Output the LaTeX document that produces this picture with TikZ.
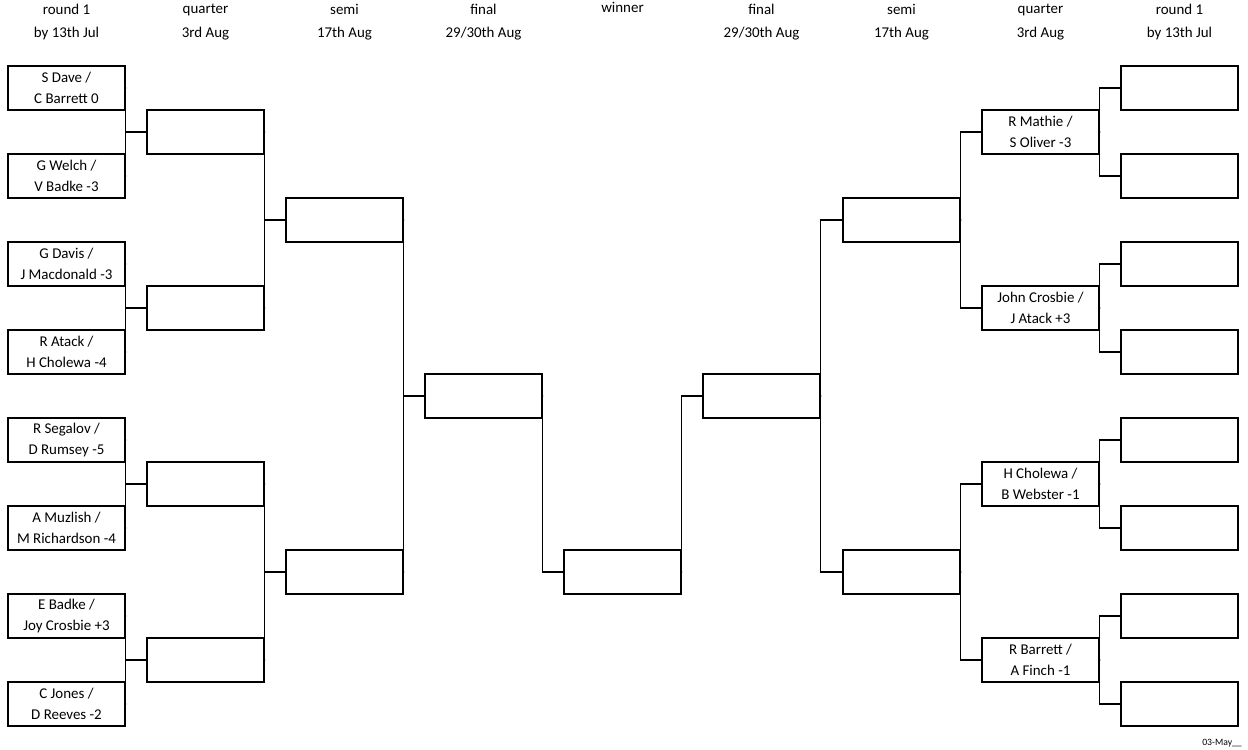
\documentclass[tikz,border=0pt]{standalone}
\usepackage{fontspec}
\setmainfont{Carlito}
\usetikzlibrary{positioning}
\newcommand{\jointo}[3]{% two boxes on the left feed one box
  \draw (#1.east) -- ++(0.23,0) |- (#3.west);
  \draw (#2.east) -- ++(0.23,0) |- (#3.west);}
\newcommand{\joinfrom}[3]{% one box feeds two boxes on the right
  \draw (#3.east) -- ++(0.23,0) |- (#1.west);
  \draw (#3.east) -- ++(0.23,0) |- (#2.west);}
\begin{document}
\begin{tikzpicture}[x=0.02cm,y=-0.02cm,line width=0.6pt,
  box/.style={draw,minimum width=2.34cm,minimum height=0.88cm,align=center,inner sep=1pt,
    font=\fontsize{8.5}{12}\selectfont},
  head/.style={align=center,font=\fontsize{8.5}{13.2}\selectfont}]
\useasboundingbox (0,0) rectangle (1248,750);
% headers
\foreach \x/\t in {66.5/{round 1\\by 13th Jul},205.5/{quarter\\3rd Aug},344.5/{semi\\17th Aug},
  483.5/{final\\29/30th Aug},622.5/{winner\\\strut},761.5/{final\\29/30th Aug},901.5/{semi\\17th Aug},
  1040.5/{quarter\\3rd Aug},1179.5/{round 1\\by 13th Jul}}
  \node[head] at (\x,22) {\t};
% round 1, left
\node[box] (l1) at (66.5,88) {S Dave /\\C Barrett 0};
\node[box] (l2) at (66.5,176) {G Welch /\\V Badke -3};
\node[box] (l3) at (66.5,264) {G Davis /\\J Macdonald -3};
\node[box] (l4) at (66.5,352) {R Atack /\\H Cholewa -4};
\node[box] (l5) at (66.5,440) {R Segalov /\\D Rumsey -5};
\node[box] (l6) at (66.5,528) {A Muzlish /\\M Richardson -4};
\node[box] (l7) at (66.5,616) {E Badke /\\Joy Crosbie +3};
\node[box] (l8) at (66.5,704) {C Jones /\\D Reeves -2};
% quarter, semi, final, left
\foreach \i/\y in {1/132,2/308,3/484,4/660} \node[box] (lq\i) at (205.5,\y) {};
\node[box] (ls1) at (344.5,220) {};
\node[box] (ls2) at (344.5,572) {};
\node[box] (lf) at (483.5,396) {};
% winner
\node[box] (w) at (622.5,572) {};
% right side
\node[box] (rf) at (761.5,396) {};
\node[box] (rs1) at (901.5,220) {};
\node[box] (rs2) at (901.5,572) {};
\node[box] (rq1) at (1040.5,132) {R Mathie /\\S Oliver -3};
\node[box] (rq2) at (1040.5,308) {John Crosbie /\\J Atack +3};
\node[box] (rq3) at (1040.5,484) {H Cholewa /\\B Webster -1};
\node[box] (rq4) at (1040.5,660) {R Barrett /\\A Finch -1};
\foreach \i in {1,...,8} \node[box] (r\i) at (1179.5,{88*\i}) {};
% connectors
\jointo{l1}{l2}{lq1} \jointo{l3}{l4}{lq2} \jointo{l5}{l6}{lq3} \jointo{l7}{l8}{lq4}
\jointo{lq1}{lq2}{ls1} \jointo{lq3}{lq4}{ls2}
\jointo{ls1}{ls2}{lf}
\draw (lf.east) -- ++(0.23,0) |- (w.west);
\draw (w.east) -- ++(0.23,0) |- (rf.west);
\joinfrom{rs1}{rs2}{rf}
\joinfrom{rq1}{rq2}{rs1} \joinfrom{rq3}{rq4}{rs2}
\joinfrom{r1}{r2}{rq1} \joinfrom{r3}{r4}{rq2} \joinfrom{r5}{r6}{rq3} \joinfrom{r7}{r8}{rq4}
\node[font=\fontsize{5.5}{6}\selectfont] (date) at (1222,743) {03-May\_\_};
\end{tikzpicture}
\end{document}
